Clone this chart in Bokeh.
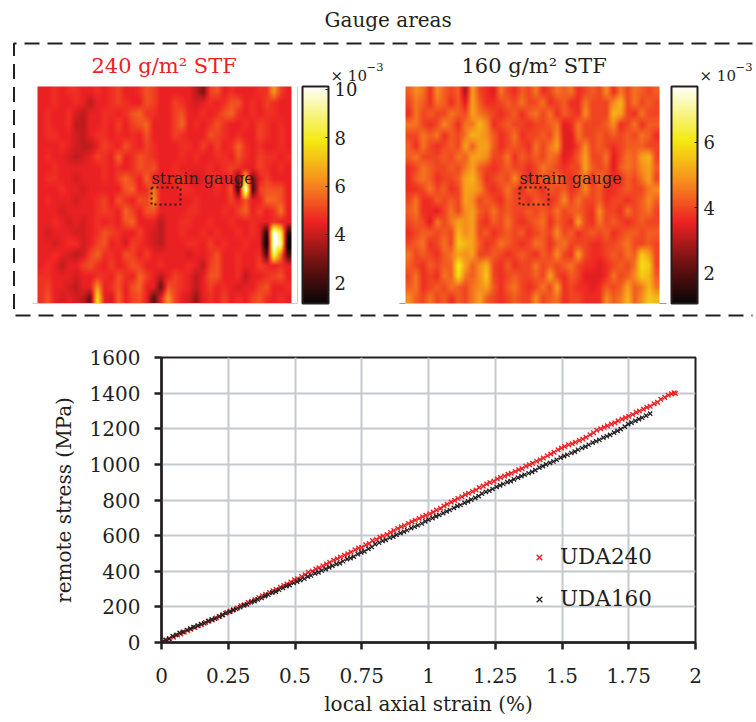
from bokeh.embed import file_html
from bokeh.layouts import column
from bokeh.models import (ColorBar, FixedTicker, Legend, LegendItem, LinearColorMapper,
                          NumeralTickFormatter, Range1d)
from bokeh.plotting import figure
from bokeh.resources import INLINE
from bokeh.core.properties import value
import numpy as np

INK = "#231f20"
RED = "#ed2024"
GRID = "#c4c9cf"
FONT = "DejaVu Serif"

# ---- scatter data -----
uda240_x = [0.005,0.018,0.03,0.045,0.06,0.072,0.085,0.098,0.11,0.125,0.138,0.15,0.165,0.178,0.19,0.205,0.218,0.23,0.245,0.258,0.27,0.285,0.298,0.31,0.325,0.338,0.35,0.365,0.378,0.39,0.405,0.418,0.43,0.445,0.458,0.47,0.485,0.498,0.51,0.525,0.538,0.55,0.565,0.578,0.59,0.605,0.618,0.63,0.645,0.658,0.67,0.685,0.698,0.71,0.725,0.738,0.75,0.765,0.778,0.79,0.805,0.818,0.83,0.845,0.858,0.87,0.885,0.898,0.91,0.925,0.938,0.95,0.965,0.978,0.99,1.005,1.018,1.03,1.045,1.058,1.07,1.085,1.098,1.11,1.125,1.138,1.15,1.165,1.178,1.19,1.205,1.218,1.23,1.245,1.258,1.27,1.285,1.298,1.31,1.325,1.338,1.35,1.365,1.378,1.39,1.405,1.418,1.43,1.445,1.458,1.47,1.485,1.498,1.51,1.525,1.538,1.55,1.565,1.578,1.59,1.605,1.618,1.63,1.645,1.658,1.67,1.685,1.698,1.71,1.725,1.738,1.75,1.765,1.778,1.79,1.805,1.818,1.83,1.845,1.858,1.87,1.885,1.898,1.91,1.92,1.925]
uda240_y = [6,14,22,30,42,48,58,68,74,84,94,100,112,120,126,138,146,156,168,176,184,194,206,212,224,232,240,252,262,270,280,290,298,310,320,328,340,352,358,370,380,394,400,412,420,430,440,450,462,470,480,490,498,508,520,530,534,548,556,572,578,590,598,606,618,628,640,650,656,668,678,686,696,706,714,722,732,744,754,766,776,788,798,808,818,830,838,848,856,870,878,890,898,906,918,926,934,944,950,960,970,976,990,998,1006,1018,1026,1036,1048,1058,1068,1082,1092,1100,1110,1116,1124,1134,1142,1152,1166,1178,1192,1200,1208,1216,1226,1234,1244,1254,1262,1270,1280,1292,1300,1310,1320,1326,1340,1348,1366,1376,1388,1396,1402,1398]
uda160_x = [0.004,0.015,0.028,0.042,0.055,0.068,0.08,0.095,0.108,0.12,0.135,0.148,0.16,0.175,0.188,0.2,0.215,0.228,0.24,0.255,0.268,0.28,0.295,0.308,0.32,0.335,0.348,0.36,0.375,0.388,0.4,0.415,0.428,0.44,0.455,0.468,0.48,0.495,0.508,0.52,0.535,0.548,0.56,0.575,0.588,0.6,0.615,0.628,0.64,0.655,0.668,0.68,0.695,0.708,0.72,0.735,0.748,0.76,0.775,0.788,0.8,0.815,0.828,0.84,0.855,0.868,0.88,0.895,0.908,0.92,0.935,0.948,0.96,0.975,0.988,1.0,1.015,1.028,1.04,1.055,1.068,1.08,1.095,1.108,1.12,1.135,1.148,1.16,1.175,1.188,1.2,1.215,1.228,1.24,1.255,1.268,1.28,1.295,1.308,1.32,1.335,1.348,1.36,1.375,1.388,1.4,1.415,1.428,1.44,1.455,1.468,1.48,1.495,1.508,1.52,1.535,1.548,1.56,1.575,1.588,1.6,1.615,1.628,1.64,1.655,1.668,1.68,1.695,1.708,1.72,1.735,1.748,1.76,1.775,1.788,1.8,1.815,1.83]
uda160_y = [4,14,20,36,42,54,60,70,78,86,94,104,108,120,128,134,146,154,164,172,182,188,198,208,214,226,232,242,250,260,268,280,286,296,306,316,322,334,342,350,358,370,376,388,394,404,412,422,430,440,446,456,468,474,482,496,506,512,526,536,552,560,570,576,588,594,604,614,622,630,642,650,658,668,680,690,698,708,716,726,736,744,756,766,772,784,792,802,812,822,836,846,852,862,874,882,890,900,906,916,926,934,942,950,958,968,982,990,1000,1008,1016,1026,1038,1046,1054,1064,1072,1082,1092,1100,1110,1122,1130,1138,1150,1158,1166,1178,1188,1198,1212,1226,1234,1244,1254,1262,1274,1285]
legend_labels = ["UDA240", "UDA160"]
x_ticks = [0, 0.25, 0.5, 0.75, 1, 1.25, 1.5, 1.75, 2]
y_ticks = [0, 200, 400, 600, 800, 1000, 1200, 1400, 1600]

# ---- strain fields: each character is one cell in base 36, read by eye
field_240 = [
 "ddedee ddedef ddegfd ddddb8 fgdedd deekfd",
 "ddedde dbddef eddgfd dfedcd edeggd edfedd",
 "deddec bddeed egheed dfgdde deghed edeedd",
 "deddeb bddedf dfghdd dfhded egedde dfeded",
 "deeddc bdeede dedgdd dfeddd gfeded dfeded",
 "dddedc bbdfed gedfed ddeedf dfdehe dedded",
 "deddcb cdfedh degfed ddeded deedge dfeede",
 "ddeddd dddede degfgd dedddd edefed dfeded",
 "deeddc dddedf hfdhdd deedcd eede7n 7dfddd",
 "dddedd cddddd ghdeid ddeedd dedg4z 4fgggd",
 "dedddc ddefdg edgfjd dddded dddfdg ddhhgd",
 "dddcdd ddefed hfdggd dddeed ddedfh dfdeid",
 "ddedcd cdeded ghdddb ddeedd eddedd eddedd",
 "dcdddc cdegfe ddfdcb ddedde dedded ed2zr3",
 "ddcdee cdfgde cfedcb dddeed fdedde dd0zu0",
 "ddedcb cfheed gfdfdd dddcdd egdded de5ti5",
 "dedbdd fgedfd egfdde dddedb fgdded dfeded",
 "eedddc ddeedg edhfdb dfedbd ggddeb ddefgd",
 "efddcb ddkdeg dghdd7 gfedbd fdedcd dfgdde",
 "egdcdc b7pdch dfgd6d kfdc9d edfded fgeded",
]
field_160 = [
 "dfebfd cd8gcb aecbdc ebcede bcdcfb ecedcd",
 "cedbed bdagdb bcdcec cebcdb becccf hcecdc",
 "becdcc edcged cbcdbd ecebdc bfccch gcbecc",
 "eecbcf dbeehf bcdccb ccdeab ecccdf bcebdd",
 "ccedeb dcehgf dbcebc cdcfaa eccdcd cdcedb",
 "dbecbc dcgdgg dbcdcb ecegaa cfcdcb cdddcc",
 "decccd cedggf ccebdc dcedab dgccea cedghc",
 "bcedcc dcegdc bcdccb cedcbc cgdcda dedfgd",
 "bdedbc cdgheb cdcfcb cdcecb debecb bdcegc",
 "bbcecd bcggfc bcecbd cbdcdb cfcdbb cdccef",
 "cebbdc dcgfcd cbdccb dcbcfc eccdbc cbcdfd",
 "debbac ecfgdc ecdccd cdcecd dcbfcc becdec",
 "cdcaec egfgcb dcecbc debdcb gcbecd cbcdcc",
 "bcddcd chfgcd bcdcdb cdcfcd bcdcdb cddcdd",
 "cdebce cihgdb cedcbc edbdec ccbbcc deccdc",
 "ecdcbd egfgcc dcbcdc bdcfcb gcbbcd cedigc",
 "dcbdcd dkgdfh cbdbcc ecdcde cbbabc dcejic",
 "cebcbe djedfi cbcdcc dcgcbd caaabe cdfihd",
 "debcdc edcefg dbdecb cecgbc bbabdc dgdehe",
 "fdcecd bdcegd cbcdcc fcdebc cbbbfd ehdfih",
]
# strain (x10^-3) = offset + step * level
level_scale_240 = (0.8, 0.28)
level_scale_160 = (0.6, 0.28)

# ---- layout constants, in page pixels -----
W, H_TOP, H_BOT = 756, 330, 392
PANEL_W, PANEL_H = 254, 217
def Y(py):
    return H_TOP - py

def field_array(rows, scale):
    """Cell values, shown with the same continuous shading as the original maps."""
    grid = [[int(c, 36) for c in r.replace(" ", "")] for r in rows]
    cells = scale[0] + scale[1] * np.array(grid[::-1], dtype=float)
    ny, nx = cells.shape
    xp = (np.arange(nx) + 0.5) / nx
    yp = (np.arange(ny) + 0.5) / ny
    xq = (np.arange(PANEL_W) + 0.5) / PANEL_W
    yq = (np.arange(PANEL_H) + 0.5) / PANEL_H
    wide = np.array([np.interp(xq, xp, row) for row in cells])
    return np.array([np.interp(yq, yp, wide[:, j]) for j in range(PANEL_W)]).T

def hot(n=256):
    stops = [(0, (10, 5, 7)), (0.20, (120, 20, 20)), (0.375, (238, 34, 36)),
             (0.56, (247, 140, 30)), (0.75, (244, 234, 16)), (1, (255, 255, 248))]
    xs = [s[0] for s in stops]
    out = []
    for t in np.linspace(0, 1, n):
        c = [int(np.interp(t, xs, [s[1][k] for s in stops])) for k in range(3)]
        out.append("#%02x%02x%02x" % tuple(c))
    return out

top = figure(width=W, height=H_TOP, output_backend="svg", toolbar_location=None,
             x_range=Range1d(0, W), y_range=Range1d(0, H_TOP), min_border=0,
             x_axis_type=None, y_axis_type=None, outline_line_color=None, frame_align=False)
top.grid.visible = False

map240 = LinearColorMapper(palette=hot(), low=1.14, high=10.12)
map160 = LinearColorMapper(palette=hot(), low=1.05, high=7.72)

panels = [(37, field_240, level_scale_240, map240, 302, [2, 4, 6, 8, 10]),
          (405, field_160, level_scale_160, map160, 671, [2, 4, 6])]
for x0, field, scale, mapper, cb_x, ticks in panels:
    top.image(image=[field_array(field, scale)], x=x0, y=Y(303), dw=PANEL_W, dh=PANEL_H, color_mapper=mapper)
    cb = ColorBar(color_mapper=mapper, ticker=FixedTicker(ticks=ticks), width=26, height=217,
                  location=(cb_x, Y(303)), padding=0, margin=0, background_fill_alpha=0,
                  bar_line_color=INK, bar_line_width=2, border_line_color=None,
                  major_tick_line_color=INK, major_tick_in=3, minor_tick_line_color=None,
                  major_label_text_font=FONT, major_label_text_font_size="18px",
                  major_label_text_color=INK, label_standoff=6)
    top.add_layout(cb)
    # gauge outline and caption
    gx = x0 + 114
    top.multi_line(xs=[[gx, gx + 29, gx + 29, gx, gx]],
                   ys=[[Y(187), Y(187), Y(204), Y(204), Y(187)]],
                   line_color=INK, line_width=2, line_dash="2 3")
    top.text(x=[gx], y=[Y(187)], text=["strain gauge"], text_font=value(FONT),
             text_font_size="16px", text_color=INK, text_baseline="bottom")

# faint plot remnants round the panels
top.multi_line(xs=[[32, 297], [297, 297], [399, 405], [659, 666]],
               ys=[[Y(303), Y(303)], [Y(303), Y(86)], [Y(303), Y(303)], [Y(303), Y(303)]],
               line_color=["#cfcfcf", "#e6c4c4", "#999999", "#999999"], line_width=1)

# dashed enclosure, open at the right
top.multi_line(xs=[[752, 13.5, 13.5, 752]], ys=[[Y(43), Y(43), Y(315), Y(315)]],
               line_color=INK, line_width=2, line_dash="15 8")

top.text(x=[324], y=[Y(19)], text=["Gauge areas"], text_font=value(FONT), text_font_size="20px",
         text_color=INK, text_baseline="middle")
top.text(x=[91, 461], y=[Y(65), Y(65)], text=["240 g/m\u00b2 STF", "160 g/m\u00b2 STF"],
         text_font=value(FONT), text_font_size="21px", text_color=[RED, INK],
         text_baseline="middle")
top.text(x=[330, 699], y=[Y(75), Y(75)], text=["\u00d7 10", "\u00d7 10"], text_font=value(FONT),
         text_font_size="15px", text_color=INK, text_baseline="middle")
top.text(x=[366, 735], y=[Y(66), Y(66)], text=["\u22123", "\u22123"], text_font=value(FONT),
         text_font_size="11.5px", text_color=INK, text_baseline="middle")

p = figure(width=W, height=H_BOT, output_backend="svg", toolbar_location=None,
           x_range=Range1d(0, 2), y_range=Range1d(0, 1600), frame_align=False,
           min_border_left=161, min_border_right=61, min_border_top=27, min_border_bottom=80,
           outline_line_color=INK, outline_line_width=2)
r240 = p.scatter(uda240_x, uda240_y, marker="x", size=6.5, line_color=RED, line_width=1.4)
r160 = p.scatter(uda160_x, uda160_y, marker="x", size=6, line_color=INK, line_width=1.3)

p.xaxis.ticker = FixedTicker(ticks=x_ticks)
p.yaxis.ticker = FixedTicker(ticks=y_ticks)
p.xaxis.formatter = NumeralTickFormatter(format="0.[00]")
p.xaxis.axis_label = "local axial strain (%)"
p.yaxis.axis_label = "remote stress (MPa)"
for ax in (p.xaxis[0], p.yaxis[0]):
    ax.axis_line_color = INK
    ax.axis_line_width = 2.5
    ax.major_tick_line_color = INK
    ax.major_tick_line_width = 2.5
    ax.major_tick_out = 7
    ax.major_tick_in = 0
    ax.minor_tick_line_color = None
    ax.major_label_text_font = FONT
    ax.major_label_text_font_size = "20px"
    ax.major_label_text_color = INK
    ax.axis_label_text_font = FONT
    ax.axis_label_text_font_size = "20px"
    ax.axis_label_text_font_style = "normal"
    ax.axis_label_text_color = INK
p.xaxis.major_label_standoff = 18
p.yaxis.major_label_standoff = 14
p.xaxis.axis_label_standoff = 6
p.yaxis.axis_label_standoff = 11
p.grid.grid_line_color = GRID
p.grid.grid_line_width = 2

legend = Legend(items=[LegendItem(label=legend_labels[0], renderers=[r240]),
                       LegendItem(label=legend_labels[1], renderers=[r160])],
                location=(368, 31), orientation="vertical", padding=0, margin=0,
                spacing=17, glyph_width=20, glyph_height=20, label_height=20,
                label_standoff=11, background_fill_alpha=0, border_line_color=None,
                label_text_font=FONT, label_text_font_size="21.5px", label_text_color=INK)
p.add_layout(legend)

page = column(top, p, spacing=0)
open("out.html", "w").write(file_html(page, INLINE))
